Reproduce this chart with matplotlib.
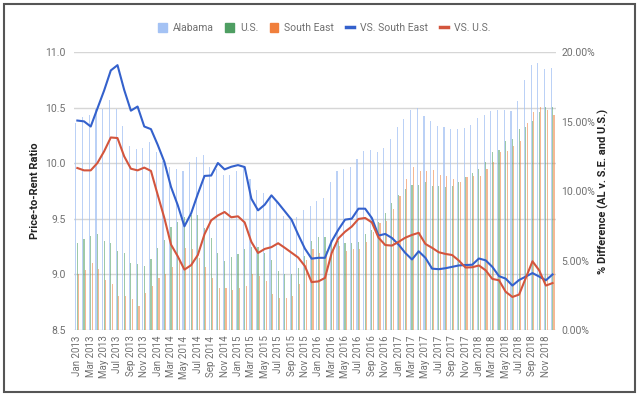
import numpy as np
import pandas as pd
import matplotlib
matplotlib.use('Agg')
import matplotlib.pyplot as plt
from matplotlib.patches import Patch, Rectangle
from matplotlib.lines import Line2D
from matplotlib.ticker import FuncFormatter

plt.rcParams['font.family'] = ['Roboto', 'DejaVu Sans']

# monthly data, Jan 2013 - Dec 2018
months = pd.date_range('2013-01-01', periods=72, freq='MS')
month_labels = list(months.strftime('%b %Y'))

alabama = [10.36, 10.42, 10.44, 10.49, 10.49, 10.57, 10.49, 10.34, 10.16, 10.13, 10.14, 10.19,
           10.10, 10.02, 9.97, 9.95, 9.93, 10.01, 10.06, 10.08, 9.97, 9.95, 9.90, 9.90,
           9.93, 9.97, 9.86, 9.76, 9.73, 9.70, 9.67, 9.53, 9.50, 9.52, 9.58, 9.62,
           9.66, 9.69, 9.83, 9.93, 9.95, 9.97, 10.04, 10.11, 10.12, 10.10, 10.14, 10.22,
           10.33, 10.40, 10.48, 10.50, 10.43, 10.38, 10.34, 10.33, 10.31, 10.31, 10.32, 10.35,
           10.41, 10.44, 10.47, 10.48, 10.48, 10.47, 10.56, 10.75, 10.89, 10.90, 10.85, 10.86]

us = [9.28, 9.32, 9.35, 9.36, 9.30, 9.28, 9.21, 9.19, 9.10, 9.09, 9.08, 9.14,
      9.24, 9.31, 9.43, 9.47, 9.52, 9.54, 9.54, 9.42, 9.33, 9.19, 9.12, 9.16,
      9.18, 9.23, 9.25, 9.25, 9.19, 9.13, 9.03, 9.00, 9.00, 9.06, 9.17, 9.30,
      9.34, 9.34, 9.29, 9.30, 9.28, 9.28, 9.29, 9.36, 9.40, 9.47, 9.55, 9.64,
      9.72, 9.77, 9.81, 9.81, 9.83, 9.80, 9.80, 9.79, 9.80, 9.83, 9.88, 9.91,
      9.95, 10.01, 10.10, 10.12, 10.20, 10.22, 10.31, 10.33, 10.38, 10.46, 10.51, 10.51]

south_east = [9.00, 9.04, 9.10, 9.05, 8.95, 8.91, 8.81, 8.81, 8.78, 8.72, 8.83, 8.90,
              8.97, 9.00, 9.07, 9.15, 9.24, 9.23, 9.15, 9.07, 8.97, 8.88, 8.88, 8.86,
              8.88, 8.90, 9.00, 8.99, 8.94, 8.82, 8.79, 8.79, 8.81, 8.91, 9.13, 9.23,
              9.19, 9.21, 9.25, 9.26, 9.21, 9.23, 9.23, 9.29, 9.38, 9.46, 9.48, 9.59,
              9.71, 9.86, 9.97, 9.93, 9.93, 9.94, 9.90, 9.89, 9.86, 9.83, 9.88, 9.89,
              9.89, 9.95, 10.01, 10.10, 10.11, 10.16, 10.20, 10.36, 10.46, 10.51, 10.48, 10.44]

vs_south_east = [15.09, 15.03, 14.66, 15.96, 17.25, 18.7, 19.08, 17.3, 15.8, 16.1, 14.66, 14.47,
                 13.35, 12.12, 10.3, 9.0, 7.47, 8.4, 9.8, 11.1, 11.13, 12.03, 11.57, 11.76,
                 11.88, 11.74, 9.46, 8.62, 9.03, 9.7, 9.15, 8.55, 7.95, 6.87, 5.86, 5.14,
                 5.2, 5.2, 6.39, 7.23, 7.95, 8.02, 8.74, 8.74, 8.07, 6.8, 6.92, 6.63,
                 6.15, 5.55, 5.08, 5.67, 5.2, 4.42, 4.38, 4.45, 4.55, 4.65, 4.68, 4.7,
                 5.15, 5.02, 4.55, 3.88, 3.7, 3.2, 3.6, 3.85, 4.1, 3.85, 3.58, 4.0]

vs_us = [11.67, 11.5, 11.5, 12.03, 12.87, 13.87, 13.83, 12.51, 11.62, 11.5, 11.7, 11.46,
         9.75, 8.07, 6.15, 5.31, 4.35, 4.67, 5.4, 6.9, 7.9, 8.25, 8.5, 8.12,
         8.19, 7.75, 6.35, 5.55, 5.84, 5.97, 6.25, 5.92, 5.57, 5.22, 4.6, 3.45,
         3.5, 3.75, 5.55, 6.6, 7.08, 7.45, 8.0, 8.07, 7.75, 6.65, 6.12, 6.08,
         6.35, 6.65, 6.85, 7.0, 6.2, 5.92, 5.6, 5.48, 5.4, 5.0, 4.5, 4.52,
         4.65, 4.3, 3.68, 3.58, 2.75, 2.38, 2.55, 3.75, 4.95, 4.3, 3.2, 3.38]

c_al = '#a4c2f4'
c_us = '#4e9e62'
c_se = '#f07f3c'
c_vse = '#3461cc'
c_vus = '#d3553d'
grey = '#707070'

fig = plt.figure(figsize=(6.4, 3.96), dpi=100)
ax = fig.add_axes([0.1156, 0.1667, 0.7530, 0.7010])

x = np.arange(len(alabama))
w = 0.17
ax.bar(x - 0.21, alabama, w, color=c_al, alpha=0.75, zorder=2)
ax.bar(x, us, w, color=c_us, alpha=0.55, zorder=2)
ax.bar(x + 0.21, south_east, w, color=c_se, alpha=0.55, zorder=2)

ax.set_ylim(8.5, 11.0)
ax.set_yticks([8.5, 9.0, 9.5, 10.0, 10.5, 11.0])
ax.yaxis.set_major_formatter(FuncFormatter(lambda v, p: f'{v:.1f}'))
ax.grid(axis='y', color='#d6d6d6', linewidth=1, zorder=0)
ax.set_axisbelow(True)
ax.set_xlim(-0.5, len(alabama) - 0.5)
ax.set_xticks(x[::2])
ax.set_xticklabels(month_labels[::2], rotation=90, fontsize=7, color=grey)
ax.tick_params(axis='both', length=0, pad=4)
ax.tick_params(axis='y', labelsize=7.5, labelcolor=grey, pad=6)
for s in ax.spines.values():
    s.set_visible(False)
ax.set_ylabel('Price-to-Rent Ratio', fontsize=8, fontweight='bold', color='#222222', labelpad=4)

ax2 = ax.twinx()
ax2.plot(x, vs_south_east, color=c_vse, linewidth=1.5, zorder=3)
ax2.plot(x, vs_us, color=c_vus, linewidth=1.5, zorder=3)
ax2.set_ylim(0, 20)
ax2.set_yticks([0, 5, 10, 15, 20])
ax2.yaxis.set_major_formatter(FuncFormatter(lambda v, p: f'{v:.2f}%'))
ax2.tick_params(axis='y', length=0, pad=4, labelsize=7.5, labelcolor=grey)
for s in ax2.spines.values():
    s.set_visible(False)
ax2.set_ylabel('% Difference (AL v. S.E. and U.S.)', fontsize=8, fontweight='bold',
               color='#222222', labelpad=2)

handles = [Patch(color=c_al), Patch(color=c_us), Patch(color=c_se),
           Line2D([], [], color=c_vse, linewidth=2.5),
           Line2D([], [], color=c_vus, linewidth=2.5)]
names = ['Alabama', 'U.S.', 'South East', 'VS. South East', 'VS. U.S.']
fig.legend(handles, names, loc='center', bbox_to_anchor=(0.507, 0.929), ncol=5,
           frameon=False, fontsize=7.5, labelcolor=grey, handlelength=0.8,
           handleheight=0.9, handletextpad=0.6, columnspacing=1.1)

# outer frame of the screenshot
fig.patches.append(Rectangle((4 / 640, 4 / 396), 631 / 640, 388 / 396, transform=fig.transFigure,
                             fill=False, edgecolor='#555555', linewidth=1.5))

fig.savefig('out.png', dpi=100)
